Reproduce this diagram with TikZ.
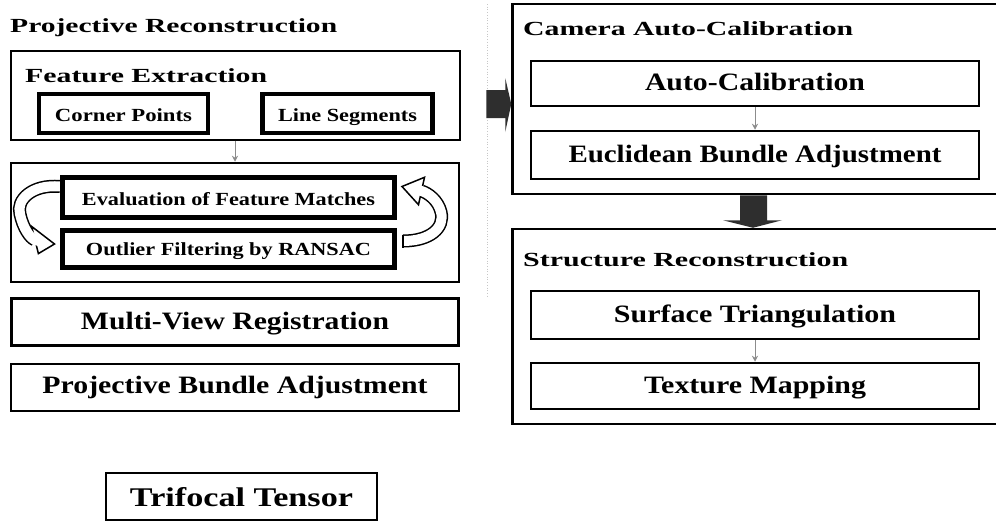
\documentclass[tikz,border=0pt]{standalone}
\usepackage{fontspec}
\setmainfont{Liberation Serif}
\usepackage{graphicx}
\usetikzlibrary{calc,arrows.meta,backgrounds}
\newcommand{\fw}[2]{\resizebox{#1}{\height}{#2}}
\begin{document}
\begin{tikzpicture}[x=1pt,y=-1pt,
  bx/.style={draw=black, inner sep=0pt, line width=#1, text depth=0pt, font=\bfseries},
  ttl/.style={anchor=base west, inner sep=0pt, font=\fontsize{20}{24}\selectfont\bfseries},
  fsA/.style={font=\fontsize{18.5}{22}\selectfont\bfseries},
  fsB/.style={font=\fontsize{25}{30}\selectfont\bfseries},
  fsC/.style={font=\fontsize{27}{32}\selectfont\bfseries},
  sarrow/.style={black!45, line width=1pt, -{Stealth[length=6pt,width=6pt]}},
  bigarrow/.style={fill=black!82},
  hollowout/.style={draw=black, line width=13pt},
  hollowin/.style={draw=white, line width=10pt},
  hollowhead/.style={fill=white, draw=black, line width=1.5pt, line join=miter}
]
\useasboundingbox (0,0) rectangle (996,522);
\clip (0,0) rectangle (996,522);

% faint separator
\draw[black!22, dotted, line width=0.7pt] (487,4) -- (487,298);

% ---------- left column ----------
\node[ttl] (t1) at (10,32) {\fw{327pt}{Projective Reconstruction}};

\node[bx=2pt, minimum width=449pt, minimum height=89pt] (feat) at (235,95) {};
\node[ttl] (t2) at (25,82) {\fw{242pt}{Feature Extraction}};
\node[bx=4.5pt, fsA, text height=15pt, minimum width=169pt, minimum height=39pt] (corner) at (123.5,113.5) {\fw{137pt}{Corner Points}};
\node[bx=4.5pt, fsA, text height=15pt, minimum width=170pt, minimum height=39pt] (lineseg) at (347.5,113.5) {\fw{139pt}{Line Segments}};

\node[bx=2.5pt, minimum width=448pt, minimum height=119pt] (match) at (235,222.5) {};
\node[bx=5pt, fsA, text height=15pt, minimum width=332pt, minimum height=40pt] (eval) at (228.5,197.5) {\fw{293pt}{Evaluation of Feature Matches}};
\node[bx=5pt, fsA, text height=12pt, minimum width=332pt, minimum height=37pt] (outlier) at (228.5,249) {\fw{285pt}{Outlier Filtering by RANSAC}};

\node[bx=3pt, fsB, text height=14pt, minimum width=447pt, minimum height=47pt] (multiview) at (235,322) {\fw{308pt}{Multi-View Registration}};
\node[bx=2pt, fsB, text height=11pt, minimum width=448pt, minimum height=47pt] (projbundle) at (235,387.5) {\fw{385pt}{Projective Bundle Adjustment}};

\node[bx=2pt, fsC, text height=20pt, minimum width=271pt, minimum height=47pt] (trifocal) at (241.5,496.5) {\fw{223pt}{Trifocal Tensor}};

% ---------- right column ----------
\node[bx=2.5pt, minimum width=497pt, minimum height=190pt] (cam) at (761,99) {};
\node[ttl] (t3) at (523,35) {\fw{330pt}{Camera Auto-Calibration}};
\node[bx=2.5pt, fsB, text height=13pt, minimum width=448pt, minimum height=45pt] (autocal) at (755,83.5) {\fw{220pt}{Auto-Calibration}};
\node[bx=2.5pt, fsB, text height=14pt, minimum width=448pt, minimum height=48pt] (euclid) at (755,155) {\fw{373pt}{Euclidean Bundle Adjustment}};

\node[bx=2.5pt, minimum width=497pt, minimum height=195pt] (struct) at (761,326.5) {};
\node[ttl] (t4) at (523,266) {\fw{325pt}{Structure Reconstruction}};
\node[bx=2.5pt, fsB, text height=14pt, minimum width=448pt, minimum height=48pt] (surface) at (755,315) {\fw{282pt}{Surface Triangulation}};
\node[bx=2.5pt, fsB, text height=14pt, minimum width=448pt, minimum height=46pt] (texture) at (755,386) {\fw{222pt}{Texture Mapping}};

% ---------- small arrows ----------
\draw[sarrow] (feat.south) -- (match.north);
\draw[sarrow] (autocal.south) -- (euclid.north);
\draw[sarrow] (surface.south) -- (texture.north);

% ---------- big arrows ----------
\coordinate (ratip) at ($(cam.west)+(0,5)$);
\fill[bigarrow] ($(ratip)+(-25,-14)$) -- ($(ratip)+(-6,-14)$) -- ($(ratip)+(-6,-26)$) -- (ratip)
  -- ($(ratip)+(-6,28)$) -- ($(ratip)+(-6,14)$) -- ($(ratip)+(-25,14)$) -- cycle;

\coordinate (datop) at ($(cam.south)+(-8,0)$);
\coordinate (datip) at ($(struct.north)+(-8,0)$);
\fill[bigarrow] ($(datop)+(-13,0)$) -- ($(datop)+(14,0)$) -- ($(datop)+(14,25)$) -- ($(datop)+(29,25)$)
  -- (datip) -- ($(datop)+(-30,25)$) -- ($(datop)+(-13,25)$) -- cycle;

% ---------- curved hollow arrows ----------
\begin{pgfonlayer}{background}
  \fill[white] (0,0) rectangle (996,522);
  % left: Evaluation -> Outlier
  \coordinate (la0) at ($(eval.west)+(0,-11)$);
  \coordinate (la1) at ($(outlier.west)+(-25,-9)$);
  \coordinate (latip) at ($(outlier.west)+(-5.5,-5)$);
  \draw[hollowout] (la0) .. controls (32,184) and (16,200) .. (20,214) .. controls (23,228) and (30,238) .. (la1);
  \draw[hollowhead] ($(la1)+(-3.4,-13.6)$) -- (latip) -- ($(la1)+(3.4,13.6)$) -- cycle;
  \draw[hollowin] (la0) .. controls (32,184) and (16,200) .. (20,214) .. controls (23,228) and (30,238) .. (la1) -- ($(la1)+(4,1)$);
  % right: Outlier -> Evaluation
  \coordinate (ra0) at ($(outlier.east)+(6,-8)$);
  \coordinate (ra1) at ($(eval.east)+(24.5,-6.5)$);
  \coordinate (ratip2) at ($(eval.east)+(5,-11)$);
  \draw[hollowout] (ra0) .. controls (430,241) and (445,228) .. (441,212) .. controls (438,200) and (428,193) .. (ra1);
  \draw[hollowhead] ($(ra1)+(3,-13.7)$) -- (ratip2) -- ($(ra1)+(-3,13.7)$) -- cycle;
  \draw[hollowin] (ra0) .. controls (430,241) and (445,228) .. (441,212) .. controls (438,200) and (428,193) .. (ra1) -- ($(ra1)+(-4,-1)$);
  \draw[black, line width=1.5pt] ($(ra0)+(0,-6.5)$) -- ($(ra0)+(0,6.5)$);
\end{pgfonlayer}
\end{tikzpicture}
\end{document}
